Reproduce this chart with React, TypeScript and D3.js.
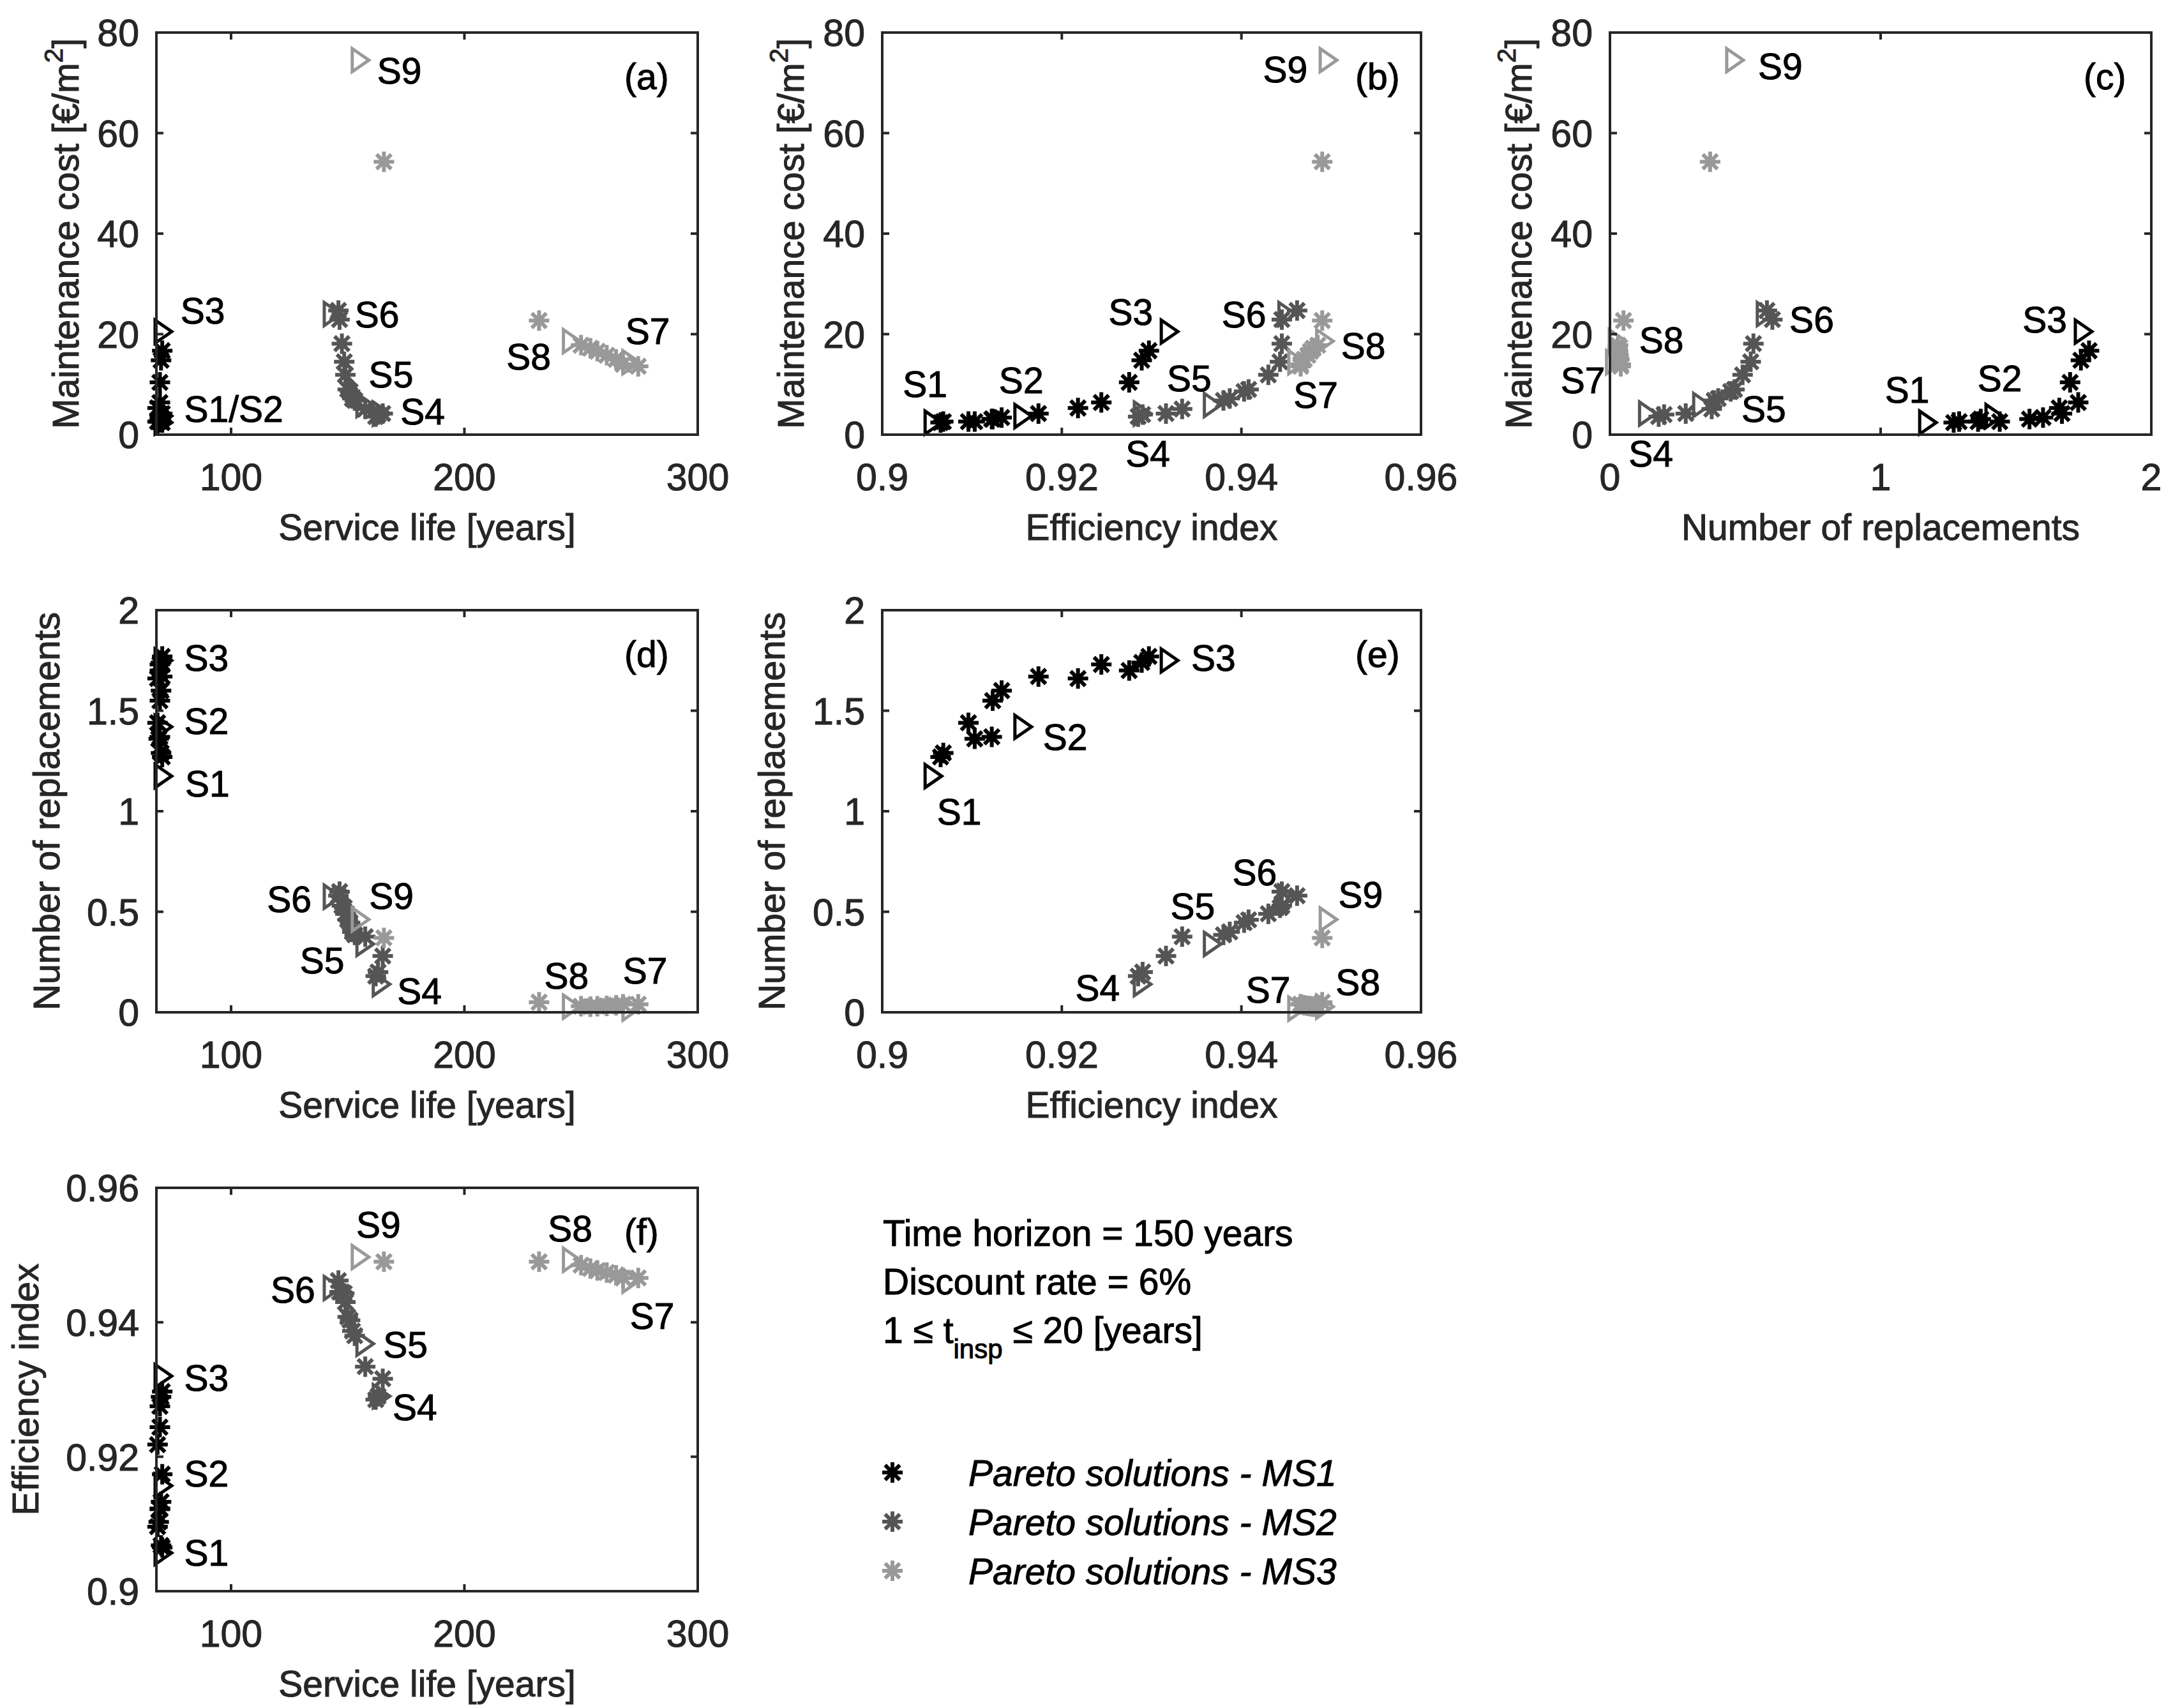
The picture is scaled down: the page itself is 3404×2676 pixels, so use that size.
import React from 'react';
import * as d3 from 'd3';

// ---------------- DATA ----------------
// Pareto solutions, MS1 (black)
const ms1Life = [70.5, 70, 68.5, 69, 69.5, 69.5, 70, 70.5, 68.5, 69.5, 69.5, 70, 70.5];
const ms1Eff = [0.9065, 0.9068, 0.9096, 0.9103, 0.9122, 0.9123, 0.9133, 0.9174, 0.9218, 0.9244, 0.9275, 0.9289, 0.9297];
const ms1Repl = [1.27, 1.29, 1.44, 1.36, 1.37, 1.55, 1.6, 1.67, 1.66, 1.73, 1.7, 1.74, 1.77];
const ms1Cost = [2.4, 2.6, 2.6, 2.6, 3.1, 3.1, 3.4, 4.2, 5.3, 6.4, 10.4, 14.8, 16.7];

// Pareto solutions, MS2 (dark grey)
const ms2Life = [146, 146.5, 147.5, 148.5, 149, 150, 151, 152, 153, 157.5, 165, 163, 162];
const ms2Eff = [0.9462, 0.9445, 0.9445, 0.9443, 0.943, 0.9408, 0.9403, 0.9387, 0.938, 0.9334, 0.9316, 0.929, 0.9285];
const ms2Repl = [0.58, 0.6, 0.53, 0.52, 0.49, 0.46, 0.446, 0.4, 0.385, 0.376, 0.28, 0.2, 0.18];
const ms2Cost = [24.7, 22.9, 18.1, 14.5, 11.9, 9.0, 8.6, 7.2, 6.8, 5.1, 4.2, 4.0, 3.6];

// Pareto solutions, MS3 (light grey)
const ms3Life = [165.5, 232, 250, 254, 257, 261, 265, 268, 274.5];
const ms3Eff = [0.949, 0.949, 0.9485, 0.948, 0.9477, 0.9474, 0.947, 0.9466, 0.9466];
const ms3Repl = [0.37, 0.05, 0.03, 0.028, 0.03, 0.032, 0.035, 0.04, 0.04];
const ms3Cost = [54.3, 22.7, 17.8, 17.2, 16.6, 15.8, 15.0, 14.0, 13.6];

// Selected solutions S1..S9 (triangles)
const solNames = ['S1', 'S2', 'S3', 'S4', 'S5', 'S6', 'S7', 'S8', 'S9'];
const solGroup = [0, 0, 0, 1, 1, 1, 2, 2, 2];
const solLife = [71, 71, 71, 164.5, 157.5, 143.5, 271.5, 246, 155.5];
const solEff = [0.9057, 0.9157, 0.932, 0.929, 0.9368, 0.9451, 0.9462, 0.9493, 0.9497];
const solRepl = [1.175, 1.42, 1.75, 0.14, 0.34, 0.575, 0.018, 0.028, 0.462];
const solCost = [2.4, 3.7, 20.5, 4.2, 5.9, 24.0, 14.4, 18.6, 74.5];

const seriesNames = ['Pareto solutions - MS1', 'Pareto solutions - MS2', 'Pareto solutions - MS3'];
const seriesColors = ['#000000', '#555555', '#999999'];

const infoLines = ['Time horizon = 150 years', 'Discount rate = 6%'];

// tick values
const lifeTicks = [100, 200, 300];
const effTicks = [0.9, 0.92, 0.94, 0.96];
const replXTicks = [0, 1, 2];
const replYTicks = [0, 0.5, 1, 1.5, 2];
const costTicks = [0, 20, 40, 60, 80];

// ---------------- STRUCTURES ----------------
type Key = 'life' | 'eff' | 'repl' | 'cost';
const series = [
  { life: ms1Life, eff: ms1Eff, repl: ms1Repl, cost: ms1Cost },
  { life: ms2Life, eff: ms2Eff, repl: ms2Repl, cost: ms2Cost },
  { life: ms3Life, eff: ms3Eff, repl: ms3Repl, cost: ms3Cost },
].map((s, i) => ({ ...s, name: seriesNames[i], color: seriesColors[i] }));

const solutions = solNames.map((n, i) => ({
  name: n,
  color: seriesColors[solGroup[i]],
  life: solLife[i],
  eff: solEff[i],
  repl: solRepl[i],
  cost: solCost[i],
}));

const LIFE_DOM = [68, 300];
const EFF_DOM = [0.9, 0.96];
const REPL_X_DOM = [0, 2];
const REPL_Y_DOM = [0, 2];
const COST_DOM = [0, 80];

const COST_LABEL = 'cost';
const panels = [
  {
    id: '(a)', xk: 'life' as Key, yk: 'cost' as Key, left: 245, top: 51, w: 848, h: 630,
    xDom: LIFE_DOM, yDom: COST_DOM, xTicks: lifeTicks, yTicks: costTicks,
    xLabel: 'Service life [years]', yLabel: COST_LABEL, yLabelDx: 122, letterDx: 733,
    labels: [['S9', 162.6, 72.5], ['S3', 78.3, 24.7], ['S1/S2', 79.9, 5.2], ['S6', 153, 24], ['S5', 159, 12], ['S4', 172.6, 4.7], ['S8', 218, 15.6], ['S7', 269, 20.7]],
  },
  {
    id: '(b)', xk: 'eff' as Key, yk: 'cost' as Key, left: 1382, top: 51, w: 844, h: 630,
    xDom: EFF_DOM, yDom: COST_DOM, xTicks: effTicks, yTicks: costTicks,
    xLabel: 'Efficiency index', yLabel: COST_LABEL, yLabelDx: 123, letterDx: 741,
    labels: [['S1', 0.9023, 10.1], ['S2', 0.913, 10.8], ['S3', 0.9252, 24.5], ['S4', 0.9271, -3.8], ['S5', 0.9317, 11.2], ['S6', 0.9378, 24], ['S7', 0.9458, 7.9], ['S8', 0.9511, 17.7], ['S9', 0.9424, 72.7]],
  },
  {
    id: '(c)', xk: 'repl' as Key, yk: 'cost' as Key, left: 2522, top: 51, w: 848, h: 630,
    xDom: REPL_X_DOM, yDom: COST_DOM, xTicks: replXTicks, yTicks: costTicks,
    xLabel: 'Number of replacements', yLabel: COST_LABEL, yLabelDx: 123, letterDx: 742,
    labels: [['S9', 0.547, 73.3], ['S8', 0.108, 18.8], ['S7', -0.182, 10.8], ['S6', 0.663, 22.9], ['S5', 0.486, 5.2], ['S4', 0.069, -3.8], ['S1', 1.016, 9.0], ['S2', 1.358, 11.2], ['S3', 1.524, 22.9]],
  },
  {
    id: '(d)', xk: 'life' as Key, yk: 'repl' as Key, left: 245, top: 956, w: 848, h: 630,
    xDom: LIFE_DOM, yDom: REPL_Y_DOM, xTicks: lifeTicks, yTicks: replYTicks,
    xLabel: 'Service life [years]', yLabel: 'Number of replacements', yLabelDx: 152, letterDx: 733,
    labels: [['S3', 79.9, 1.765], ['S2', 79.9, 1.45], ['S1', 80.3, 1.137], ['S6', 115.4, 0.563], ['S9', 159.2, 0.578], ['S5', 129.5, 0.26], ['S4', 171.2, 0.105], ['S8', 234.2, 0.184], ['S7', 267.9, 0.207]],
  },
  {
    id: '(e)', xk: 'eff' as Key, yk: 'repl' as Key, left: 1382, top: 956, w: 844, h: 630,
    xDom: EFF_DOM, yDom: REPL_Y_DOM, xTicks: effTicks, yTicks: replYTicks,
    xLabel: 'Efficiency index', yLabel: 'Number of replacements', yLabelDx: 153, letterDx: 741,
    labels: [['S1', 0.9061, 1.0], ['S2', 0.9179, 1.37], ['S3', 0.9344, 1.765], ['S4', 0.9215, 0.123], ['S5', 0.9321, 0.529], ['S6', 0.939, 0.697], ['S9', 0.9508, 0.587], ['S7', 0.9405, 0.114], ['S8', 0.9505, 0.152]],
  },
  {
    id: '(f)', xk: 'life' as Key, yk: 'eff' as Key, left: 245, top: 1861, w: 848, h: 632,
    xDom: LIFE_DOM, yDom: EFF_DOM, xTicks: lifeTicks, yTicks: effTicks,
    xLabel: 'Service life [years]', yLabel: 'Efficiency index', yLabelDx: 185, letterDx: 733,
    labels: [['S9', 153.6, 0.9545], ['S8', 235.8, 0.954], ['S6', 117, 0.9449], ['S5', 165.2, 0.9367], ['S4', 169.2, 0.9274], ['S7', 270.9, 0.941], ['S3', 79.9, 0.9318], ['S2', 79.9, 0.9175], ['S1', 79.9, 0.9057]],
  },
];

// ---------------- STYLE ----------------
const FONT = '"Liberation Sans", Arial, Helvetica, sans-serif';
const FS = 57;
const TICK_FS = 59;
const AXIS_COLOR = '#262626';
const AXIS_STROKE = 4;
const STAR_STROKE = 6;
const TRI_STROKE = 5;
const TEXT_STROKE = 1;
const TICK = 11;
const STAR_R = 16;
const TRI_W = 13;
const TRI_H = 18;

const starPath = (() => {
  const r = STAR_R;
  const d = r * 0.72;
  return `M${-r},0H${r}M0,${-r}V${r}M${-d},${-d}L${d},${d}M${-d},${d}L${d},${-d}`;
})();
const triPath = `M${-TRI_W},${-TRI_H}L${TRI_W},0L${-TRI_W},${TRI_H}Z`;

const fmt = (v: number) => String(+v.toFixed(4));

const textStyle = (color: string, size: number) => ({
  fontSize: size,
  fill: color,
  stroke: color,
  strokeWidth: TEXT_STROKE,
  fontFamily: FONT,
});

function YLabel({ text, x, y }: { text: string; x: number; y: number }) {
  const st = textStyle(AXIS_COLOR, FS);
  if (text === COST_LABEL) {
    return (
      <text transform={`translate(${x},${y}) rotate(-90)`} textAnchor="middle" {...st}>
        Maintenance cost [€/m<tspan fontSize={41} dy={-25}>2</tspan><tspan dy={25}>]</tspan>
      </text>
    );
  }
  return (
    <text transform={`translate(${x},${y}) rotate(-90)`} textAnchor="middle" {...st}>
      {text}
    </text>
  );
}

function Panel({ p }: { p: (typeof panels)[number] }) {
  const x = d3.scaleLinear().domain(p.xDom).range([p.left, p.left + p.w]);
  const y = d3.scaleLinear().domain(p.yDom).range([p.top + p.h, p.top]);
  const bottom = p.top + p.h;
  const right = p.left + p.w;
  return (
    <g>
      {/* stars */}
      {series.map((s, si) => (
        <g key={si} stroke={s.color} strokeWidth={STAR_STROKE} fill="none">
          {s[p.xk].map((xv: number, i: number) => (
            <path key={i} d={starPath} transform={`translate(${x(xv)},${y(s[p.yk][i])})`} />
          ))}
        </g>
      ))}
      {/* selected solutions */}
      {solutions.map((s) => (
        <path key={s.name} d={triPath} transform={`translate(${x(s[p.xk])},${y(s[p.yk])})`} stroke={s.color} strokeWidth={TRI_STROKE} fill="none" strokeLinejoin="miter" />
      ))}
      {/* box */}
      <rect x={p.left} y={p.top} width={p.w} height={p.h} fill="none" stroke={AXIS_COLOR} strokeWidth={AXIS_STROKE} />
      {/* ticks */}
      {p.xTicks.map((t) => (
        <g key={'x' + t}>
          <line x1={x(t)} x2={x(t)} y1={bottom} y2={bottom - TICK} stroke={AXIS_COLOR} strokeWidth={AXIS_STROKE} />
          <line x1={x(t)} x2={x(t)} y1={p.top} y2={p.top + TICK} stroke={AXIS_COLOR} strokeWidth={AXIS_STROKE} />
          <text x={x(t)} y={bottom + 87} textAnchor="middle" {...textStyle(AXIS_COLOR, TICK_FS)}>{fmt(t)}</text>
        </g>
      ))}
      {p.yTicks.map((t) => (
        <g key={'y' + t}>
          <line x1={p.left} x2={p.left + TICK} y1={y(t)} y2={y(t)} stroke={AXIS_COLOR} strokeWidth={AXIS_STROKE} />
          <line x1={right} x2={right - TICK} y1={y(t)} y2={y(t)} stroke={AXIS_COLOR} strokeWidth={AXIS_STROKE} />
          <text x={p.left - 27} y={y(t)} dy="0.36em" textAnchor="end" {...textStyle(AXIS_COLOR, TICK_FS)}>{fmt(t)}</text>
        </g>
      ))}
      {/* axis labels */}
      <text x={p.left + p.w / 2} y={bottom + 165} textAnchor="middle" {...textStyle(AXIS_COLOR, FS)}>{p.xLabel}</text>
      <YLabel text={p.yLabel} x={p.left - p.yLabelDx} y={p.top + p.h / 2} />
      {/* panel letter */}
      <text x={p.left + p.letterDx} y={p.top + 68} dy="0.36em" {...textStyle('#000', FS)}>{p.id}</text>
      {/* solution labels */}
      {p.labels.map((l, i) => (
        <text key={i} x={x(l[1] as number)} y={y(l[2] as number)} dy="0.36em" {...textStyle('#000', FS)}>{l[0] as string}</text>
      ))}
    </g>
  );
}

export default function App() {
  const W = 3404;
  const H = 2676;
  return (
    <svg width={W} height={H} viewBox={`0 0 ${W} ${H}`} style={{ position: 'absolute', left: 0, top: 0, background: '#fff' }}>
      <rect width={W} height={H} fill="#fff" />
      {panels.map((p) => (
        <Panel key={p.id} p={p} />
      ))}
      {/* info text */}
      <g {...textStyle('#000', FS)}>
        {infoLines.map((t, i) => (
          <text key={i} x={1383} y={1952 + i * 76}>{t}</text>
        ))}
        <text x={1383} y={1952 + 2 * 76}>
          1 ≤ t<tspan fontSize={42} dy={24}>insp</tspan><tspan dy={-24}> ≤ 20 [years]</tspan>
        </text>
      </g>
      {/* legend */}
      {series.map((s, i) => (
        <g key={i}>
          <path d={starPath} transform={`translate(${1398},${2307 + i * 77})`} stroke={s.color} strokeWidth={STAR_STROKE} fill="none" />
          <text x={1517} y={2307 + i * 77} dy="0.36em" fontStyle="italic" {...textStyle('#000', FS)}>{s.name}</text>
        </g>
      ))}
    </svg>
  );
}
